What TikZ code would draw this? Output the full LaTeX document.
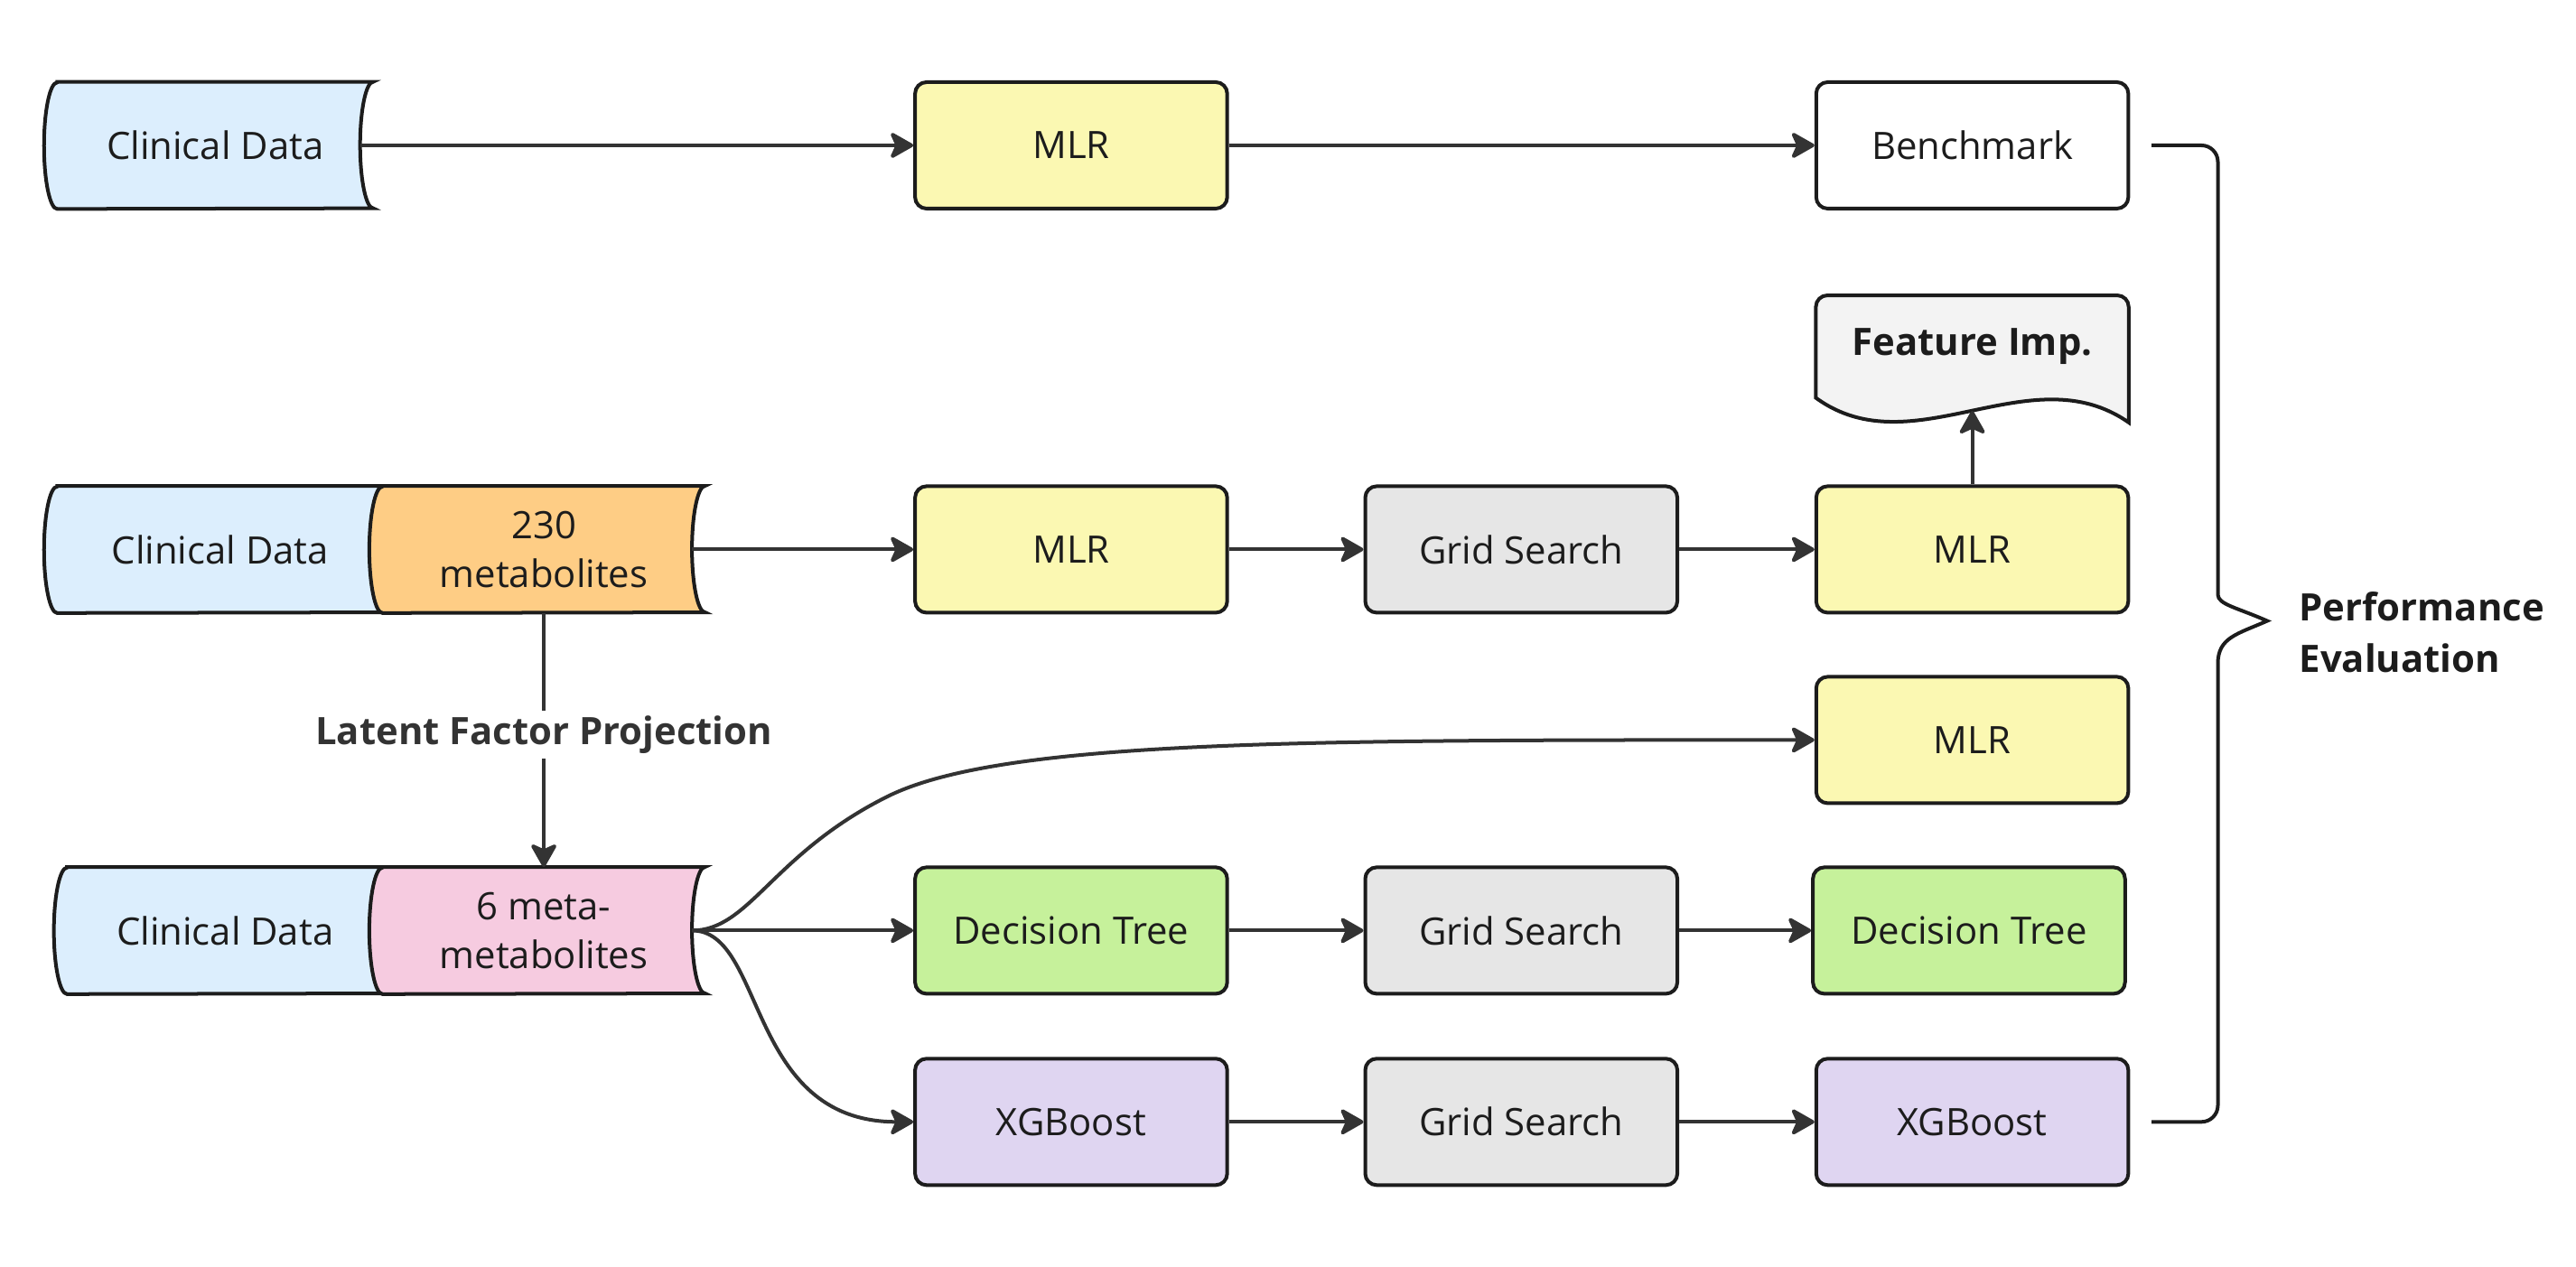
\documentclass[tikz,border=0pt]{standalone}
\usepackage{fontspec}
\setmainfont{Open Sans}
\usetikzlibrary{arrows.meta,positioning,calc,backgrounds}

\definecolor{clinblue}{HTML}{DCEEFD}
\definecolor{metorange}{HTML}{FECD85}
\definecolor{metpink}{HTML}{F6CBE0}
\definecolor{mlryellow}{HTML}{FBF8B2}
\definecolor{gridgray}{HTML}{E6E6E6}
\definecolor{treegreen}{HTML}{C6F19B}
\definecolor{xgbpurple}{HTML}{DFD5F1}
\definecolor{impgray}{HTML}{F3F3F3}
\definecolor{edge}{HTML}{1C1C1C}
\definecolor{wire}{HTML}{333333}

% data store outline drawn round a node: bulge on the left, hollow on the right
\newcommand{\storedata}[2]{%
  \draw[line width=2.2pt, draw=edge, fill=#2] (#1.north west) -- (#1.north east)
    arc[start angle=90, end angle=270, x radius=8pt, y radius=38.5pt] -- (#1.south west)
    arc[start angle=270, end angle=90, x radius=8pt, y radius=38.5pt] -- cycle;}

\begin{document}
\begin{tikzpicture}[x=1pt, y=1pt,
  every node/.style={font=\fontsize{23}{30}\selectfont, text=edge},
  box/.style={draw=edge, line width=2.2pt, rounded corners=7pt, minimum width=190pt, minimum height=77pt, align=center},
  half/.style={minimum height=77pt, inner sep=0pt, align=center},
  flow/.style={draw=wire, line width=2.2pt, -{Stealth[length=16pt, width=18pt, inset=4pt, round]}},
  bold/.style={font=\bfseries\fontsize{23}{31}\selectfont}]
  \useasboundingbox (0,0) rectangle (1568,-771);

  % data inputs
  \node[half, minimum width=192pt] (cd1) at (131,-88.5) {Clinical Data};
  \node[half, minimum width=198pt] (cd2) at (134,-334.5) {Clinical Data};
  \node[half, minimum width=196pt] (met230) at (331,-334.5) {\raisebox{-4pt}{230}\\\raisebox{-4pt}{metabolites}};
  \node[half, minimum width=192pt] (cd4) at (137,-566.5) {Clinical Data};
  \node[half, minimum width=196pt] (met6) at (331,-566.5) {\raisebox{-4pt}{6 meta-}\\\raisebox{-4pt}{metabolites}};

  % models
  \node[box, fill=mlryellow] (mlr1) at (652,-88.5) {MLR};
  \node[box, fill=white] (bench) at (1200.5,-88.5) {Benchmark};
  \node[box, fill=mlryellow] (mlr2) at (652,-334.5) {MLR};
  \node[box, fill=gridgray] (gs2) at (926,-334.5) {Grid Search};
  \node[box, fill=mlryellow] (mlr2b) at (1200.5,-334.5) {MLR};
  \node[box, fill=mlryellow] (mlr3) at (1200.5,-450.5) {MLR};
  \node[box, fill=treegreen] (dt) at (652,-566.5) {Decision Tree};
  \node[box, fill=gridgray] (gs4) at (926,-566.5) {Grid Search};
  \node[box, fill=treegreen] (dt2) at (1198.5,-566.5) {Decision Tree};
  \node[box, fill=xgbpurple] (xgb) at (652,-683) {XGBoost};
  \node[box, fill=gridgray] (gs5) at (926,-683) {Grid Search};
  \node[box, fill=xgbpurple] (xgb2) at (1200.5,-683) {XGBoost};

  % document with wavy bottom
  \node[bold, minimum width=190pt, minimum height=62pt] (fimp) at (1200.5,-211) {\raisebox{-2pt}{Feature Imp.}};

  \begin{scope}[on background layer]
    \storedata{cd1}{clinblue}
    \storedata{cd2}{clinblue}
    \storedata{met230}{metorange}
    \storedata{cd4}{clinblue}
    \storedata{met6}{metpink}
    \draw[line width=2.2pt, draw=edge, fill=impgray] (fimp.south west)
      -- ([yshift=-7pt]fimp.north west) arc[start angle=180, end angle=90, radius=7pt]
      -- ([xshift=-7pt]fimp.north east) arc[start angle=90, end angle=0, radius=7pt]
      -- ([yshift=-15pt]fimp.south east)
      .. controls +(-60,42) and +(59,-43) .. (fimp.south west) -- cycle;
  \end{scope}

  % connectors
  \draw[flow] ([xshift=-8pt]cd1.east) -- (mlr1.west);
  \draw[flow] ([xshift=-8pt]met230.east) -- (mlr2.west);
  \foreach \a/\b in {mlr1/bench, mlr2/gs2, gs2/mlr2b, dt/gs4, gs4/dt2, xgb/gs5, gs5/xgb2}
    \draw[flow] (\a) -- (\b);
  \draw[flow] (mlr2b.north) -- ([yshift=-8pt]fimp.south);
  \draw[flow] (met230.south) -- node[pos=0.48, fill=white, inner sep=3pt, bold, text=wire] (lfp) {Latent Factor Projection} (met6.north);
  \coordinate (fan) at ([xshift=-8pt]met6.east);
  \draw[flow] (fan) .. controls +(35,0) and +(-70,-35) .. (540,-485)
    .. controls +(70,35) and +(-306,0) .. (mlr3.west);
  \draw[flow] (fan) -- (dt.west);
  \draw[flow] (fan) .. controls +(45,0) and +(-102,0) .. (xgb.west);

  % brace round the results
  \draw[line width=2.2pt, draw=edge] ([xshift=13pt]bench.east) {[rounded corners=10pt] -| (1350,-352)}
    .. controls (1350,-368) and (1362,-370) .. (1380,-378)
    .. controls (1362,-386) and (1350,-388) .. (1350,-404)
    {[rounded corners=10pt] |- ([xshift=13pt]xgb2.east)};
  \node[bold, anchor=west, align=left] (perf) at (1396,-385) {Performance\\Evaluation};
\end{tikzpicture}
\end{document}
